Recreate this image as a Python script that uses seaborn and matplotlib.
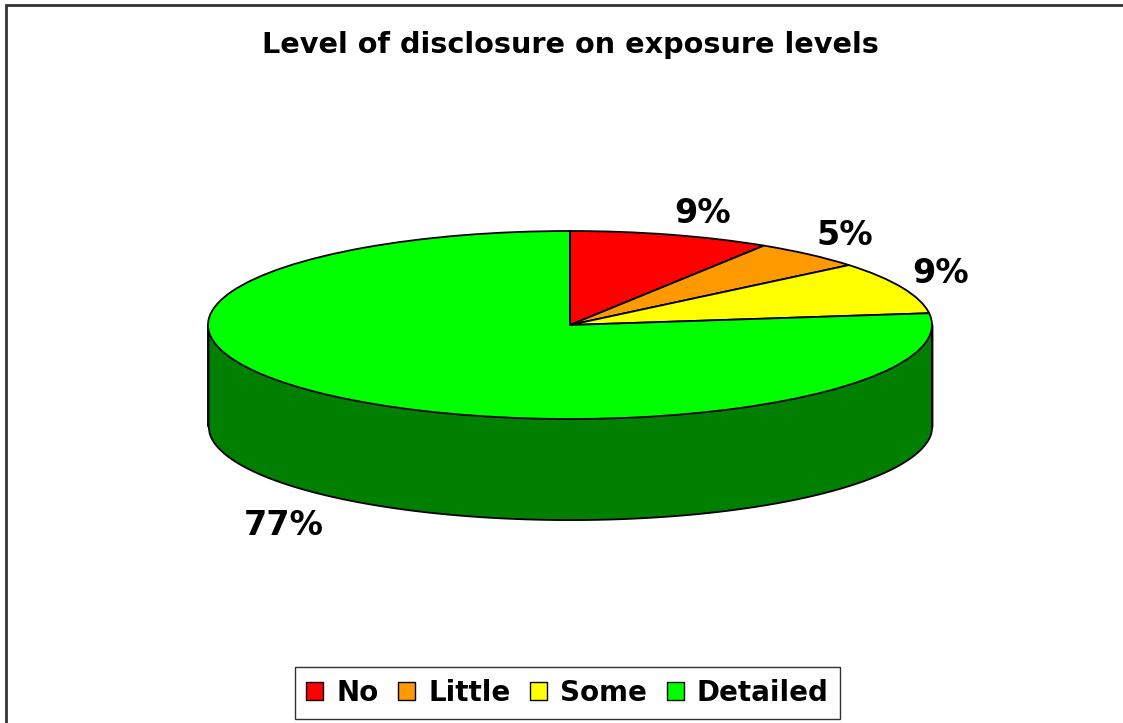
import numpy as np
import matplotlib
matplotlib.use("Agg")
import matplotlib.pyplot as plt
import seaborn as sns

# ---- data ----
categories = ["No", "Little", "Some", "Detailed"]
values = [9, 5, 9, 77]
pct_labels = ["9%", "5%", "9%", "77%"]
colors = ["#FF0000", "#FF9900", "#FFFF00", "#00FF00"]
side_color = "#007F00"
title = "Level of disclosure on exposure levels"

sns.set_theme(style="white")
plt.rcParams["font.family"] = ["DejaVu Sans"]
plt.rcParams["text.color"] = "black"

W, H = 1123, 723
fig = plt.figure(figsize=(W / 100, H / 100), dpi=100)
ax = fig.add_axes([0, 0, 1, 1])

# geometry (pixels): ellipse centre, radii, depth
cx, cy, rx, ry = 570, 325, 362, 94
depth = 1.07  # in y-units of ry

wedges, _ = ax.pie(values, colors=colors, startangle=90, counterclock=False,
                   wedgeprops=dict(edgecolor="black", linewidth=1.3), radius=1)
for w in wedges:
    w.set_zorder(3)

# side wall of the 3-D pie
xs = np.linspace(-1, 1, 600)
front = -np.sqrt(1 - xs ** 2)
ax.fill_between(xs, front - depth, 0, color=side_color, edgecolor="black",
                linewidth=1.3, zorder=2)
ax.plot([-1, -1], [0, -depth], color="black", lw=1.3, zorder=2)
ax.plot([1, 1], [0, -depth], color="black", lw=1.3, zorder=2)

# map data coordinates to the pixel layout
ax.set_aspect("auto")
ax.set_xlim(-cx / rx, (W - cx) / rx)
ax.set_ylim((cy - H) / ry, cy / ry)
ax.axis("off")

# percentage labels (placed just outside the rim, Excel style)
total = sum(values)
start = 90.0
for v, lab in zip(values, pct_labels):
    span = 360.0 * v / total
    mid = np.deg2rad(start - span / 2)
    start -= span
    c, s = np.cos(mid), np.sin(mid)
    x = 1.03 * c
    if s > 0:
        y, va = 1.13 * s, "baseline"
    else:
        y, va = 1.18 * s - depth, "top"
    ax.text(x, y, lab, ha="left" if c > 0 else "right", va=va, fontsize=24,
            fontweight="bold", color="black", zorder=5)

fig.text(570 / W, 1 - 45 / H, title, ha="center", va="center",
         fontsize=20.7, fontweight="bold", color="black")

leg = fig.legend(wedges, categories, loc="center", bbox_to_anchor=(567.5 / W, 1 - 693 / H),
                 ncol=4, frameon=True, fancybox=False, edgecolor="black",
                 handlelength=0.6, handleheight=0.6, handletextpad=0.47,
                 columnspacing=0.72, borderpad=0.42, borderaxespad=0,
                 prop=dict(size=20, weight="bold"))
leg.get_frame().set_linewidth(1.0)
for t in leg.get_texts():
    t.set_color("black")
for h in leg.legend_handles:
    h.set_edgecolor("black")
    h.set_linewidth(1.0)

# outer chart border
border = plt.Rectangle((6 / W, -0.02), 1.05, 1 - 5 / H + 0.02, transform=fig.transFigure,
                       fill=False, edgecolor="#333333", linewidth=2)
fig.patches.append(border)

fig.savefig("out.png", dpi=100)
